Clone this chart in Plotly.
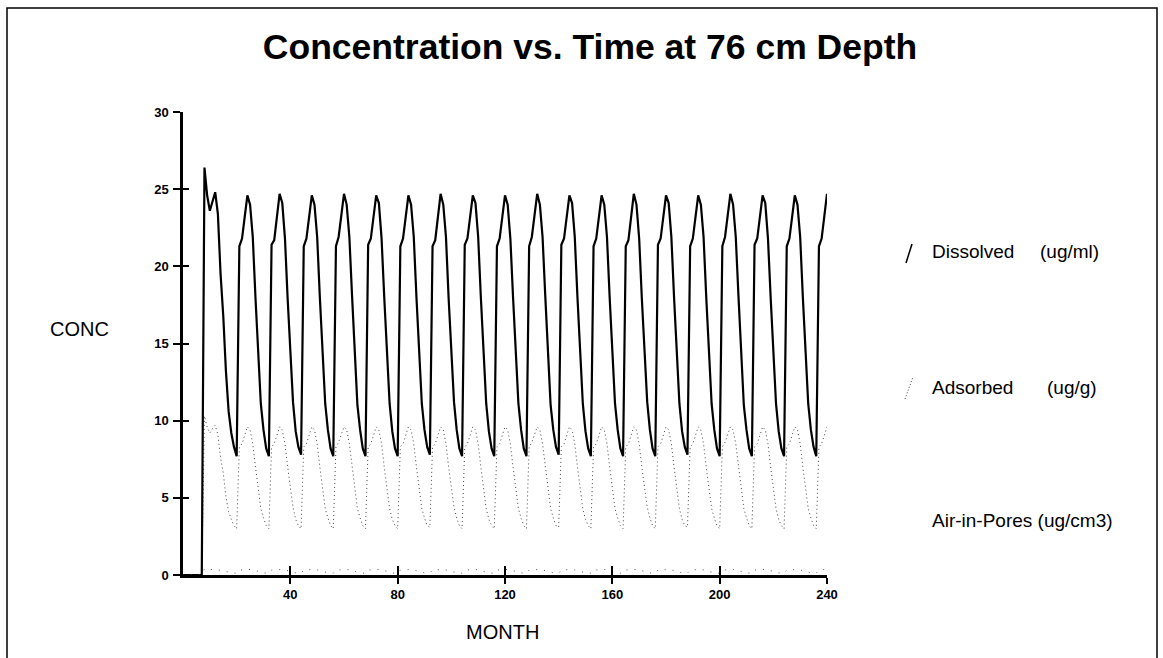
import plotly.graph_objects as go

# ---------------- data ----------------
months = list(range(0, 241))

dissolved = [
    0, 0, 0, 0, 0, 0, 0, 0,
    26.4, 24.6, 23.6, 24.3, 24.8, 23.4, 19.5, 16.8, 13.2, 10.6, 9.2, 8.3, 7.7,
    # cycles 1-6
    21.3, 21.8, 23.2, 24.6, 24.0, 21.9, 18.0, 14.5, 11.1, 9.4, 8.2, 7.7,
    21.4, 21.7, 23.3, 24.7, 24.1, 21.8, 17.9, 14.6, 11.2, 9.3, 8.3, 7.8,
    21.3, 21.8, 23.2, 24.6, 24.0, 21.9, 18.0, 14.5, 11.1, 9.4, 8.2, 7.7,
    21.3, 21.9, 23.3, 24.7, 24.0, 21.9, 18.1, 14.5, 11.0, 9.4, 8.2, 7.7,
    21.4, 21.8, 23.2, 24.6, 24.1, 21.8, 18.0, 14.6, 11.1, 9.3, 8.2, 7.7,
    21.3, 21.8, 23.2, 24.6, 24.0, 21.9, 18.0, 14.5, 11.1, 9.4, 8.3, 7.8,
    # cycles 7-12
    21.3, 21.7, 23.3, 24.7, 24.0, 21.9, 17.9, 14.5, 11.2, 9.4, 8.2, 7.7,
    21.4, 21.8, 23.2, 24.6, 24.1, 21.9, 18.0, 14.6, 11.1, 9.3, 8.2, 7.7,
    21.3, 21.8, 23.2, 24.6, 24.0, 21.8, 18.0, 14.5, 11.1, 9.4, 8.2, 7.7,
    21.3, 21.9, 23.3, 24.7, 24.0, 21.9, 18.1, 14.5, 11.0, 9.4, 8.3, 7.8,
    21.4, 21.8, 23.2, 24.6, 24.1, 21.9, 18.0, 14.6, 11.1, 9.3, 8.2, 7.7,
    21.3, 21.8, 23.2, 24.6, 24.0, 21.9, 18.0, 14.5, 11.1, 9.4, 8.2, 7.7,
    # cycles 13-18
    21.3, 21.7, 23.3, 24.7, 24.0, 21.8, 17.9, 14.5, 11.2, 9.4, 8.2, 7.7,
    21.4, 21.8, 23.2, 24.6, 24.1, 21.9, 18.0, 14.6, 11.1, 9.3, 8.3, 7.8,
    21.3, 21.8, 23.2, 24.6, 24.0, 21.9, 18.0, 14.5, 11.1, 9.4, 8.2, 7.7,
    21.3, 21.9, 23.3, 24.7, 24.0, 21.9, 18.1, 14.5, 11.0, 9.4, 8.2, 7.7,
    21.4, 21.8, 23.2, 24.6, 24.1, 21.8, 18.0, 14.6, 11.1, 9.3, 8.2, 7.7,
    21.3, 21.8, 23.2, 24.6, 24.0, 21.9, 18.0, 14.5, 11.1, 9.4, 8.3, 7.7,
    # last partial cycle
    21.3, 21.8, 23.2, 24.7,
]

adsorbed = [
    0, 0, 0, 0, 0, 0, 0, 0,
    10.3, 9.6, 9.2, 9.5, 9.7, 9.1, 7.6, 6.6, 5.1, 4.1, 3.6, 3.2, 3.0,
    # cycles 1-6
    8.3, 8.5, 9.0, 9.6, 9.4, 8.5, 7.0, 5.7, 4.3, 3.7, 3.2, 3.0,
    8.3, 8.5, 9.1, 9.6, 9.4, 8.5, 7.0, 5.7, 4.4, 3.6, 3.2, 3.0,
    8.3, 8.5, 9.0, 9.6, 9.4, 8.5, 7.0, 5.7, 4.3, 3.7, 3.2, 3.0,
    8.3, 8.6, 9.1, 9.6, 9.4, 8.5, 7.1, 5.7, 4.3, 3.7, 3.2, 3.0,
    8.3, 8.5, 9.0, 9.6, 9.4, 8.5, 7.0, 5.7, 4.3, 3.6, 3.2, 3.0,
    8.3, 8.5, 9.0, 9.6, 9.4, 8.5, 7.0, 5.7, 4.3, 3.7, 3.2, 3.1,
    # cycles 7-12
    8.3, 8.5, 9.1, 9.6, 9.4, 8.5, 7.0, 5.7, 4.4, 3.7, 3.2, 3.0,
    8.3, 8.5, 9.0, 9.6, 9.4, 8.5, 7.0, 5.7, 4.3, 3.6, 3.2, 3.0,
    8.3, 8.5, 9.0, 9.6, 9.4, 8.5, 7.0, 5.7, 4.3, 3.7, 3.2, 3.0,
    8.3, 8.6, 9.1, 9.6, 9.4, 8.5, 7.1, 5.7, 4.3, 3.7, 3.2, 3.1,
    8.3, 8.5, 9.0, 9.6, 9.4, 8.5, 7.0, 5.7, 4.3, 3.6, 3.2, 3.0,
    8.3, 8.5, 9.0, 9.6, 9.4, 8.5, 7.0, 5.7, 4.3, 3.7, 3.2, 3.0,
    # cycles 13-18
    8.3, 8.5, 9.1, 9.6, 9.4, 8.5, 7.0, 5.7, 4.4, 3.7, 3.2, 3.0,
    8.3, 8.5, 9.0, 9.6, 9.4, 8.5, 7.0, 5.7, 4.3, 3.6, 3.2, 3.1,
    8.3, 8.5, 9.0, 9.6, 9.4, 8.5, 7.0, 5.7, 4.3, 3.7, 3.2, 3.0,
    8.3, 8.6, 9.1, 9.6, 9.4, 8.5, 7.1, 5.7, 4.3, 3.7, 3.2, 3.0,
    8.3, 8.5, 9.0, 9.6, 9.4, 8.5, 7.0, 5.7, 4.3, 3.6, 3.2, 3.0,
    8.3, 8.5, 9.0, 9.6, 9.4, 8.5, 7.0, 5.7, 4.3, 3.7, 3.2, 3.0,
    # last partial cycle
    8.3, 8.5, 9.0, 9.6,
]

air_in_pores = [
    0, 0, 0, 0, 0, 0, 0, 0,
    0.40, 0.37, 0.35, 0.36, 0.37, 0.35, 0.29, 0.25, 0.20, 0.16, 0.14, 0.12, 0.12,
    # cycles 1-6
    0.32, 0.33, 0.35, 0.37, 0.36, 0.33, 0.27, 0.22, 0.17, 0.14, 0.12, 0.12,
    0.32, 0.33, 0.35, 0.37, 0.36, 0.33, 0.27, 0.22, 0.17, 0.14, 0.12, 0.12,
    0.32, 0.33, 0.35, 0.37, 0.36, 0.33, 0.27, 0.22, 0.17, 0.14, 0.12, 0.12,
    0.32, 0.33, 0.35, 0.37, 0.36, 0.33, 0.27, 0.22, 0.17, 0.14, 0.12, 0.12,
    0.32, 0.33, 0.35, 0.37, 0.36, 0.33, 0.27, 0.22, 0.17, 0.14, 0.12, 0.12,
    0.32, 0.33, 0.35, 0.37, 0.36, 0.33, 0.27, 0.22, 0.17, 0.14, 0.12, 0.12,
    # cycles 7-12
    0.32, 0.33, 0.35, 0.37, 0.36, 0.33, 0.27, 0.22, 0.17, 0.14, 0.12, 0.12,
    0.32, 0.33, 0.35, 0.37, 0.36, 0.33, 0.27, 0.22, 0.17, 0.14, 0.12, 0.12,
    0.32, 0.33, 0.35, 0.37, 0.36, 0.33, 0.27, 0.22, 0.17, 0.14, 0.12, 0.12,
    0.32, 0.33, 0.35, 0.37, 0.36, 0.33, 0.27, 0.22, 0.17, 0.14, 0.12, 0.12,
    0.32, 0.33, 0.35, 0.37, 0.36, 0.33, 0.27, 0.22, 0.17, 0.14, 0.12, 0.12,
    0.32, 0.33, 0.35, 0.37, 0.36, 0.33, 0.27, 0.22, 0.17, 0.14, 0.12, 0.12,
    # cycles 13-18
    0.32, 0.33, 0.35, 0.37, 0.36, 0.33, 0.27, 0.22, 0.17, 0.14, 0.12, 0.12,
    0.32, 0.33, 0.35, 0.37, 0.36, 0.33, 0.27, 0.22, 0.17, 0.14, 0.12, 0.12,
    0.32, 0.33, 0.35, 0.37, 0.36, 0.33, 0.27, 0.22, 0.17, 0.14, 0.12, 0.12,
    0.32, 0.33, 0.35, 0.37, 0.36, 0.33, 0.27, 0.22, 0.17, 0.14, 0.12, 0.12,
    0.32, 0.33, 0.35, 0.37, 0.36, 0.33, 0.27, 0.22, 0.17, 0.14, 0.12, 0.12,
    0.32, 0.33, 0.35, 0.37, 0.36, 0.33, 0.27, 0.22, 0.17, 0.14, 0.12, 0.12,
    # last partial cycle
    0.32, 0.33, 0.35, 0.37,
]

x_ticks = [40, 80, 120, 160, 200, 240]
x_tick_labels = ["40", "80", "120", "160", "200", "240"]
y_ticks = [0, 5, 10, 15, 20, 25, 30]
y_tick_labels = ["0", "5", "10", "15", "20", "25", "30"]

title_text = "Concentration vs. Time at 76 cm Depth"
series_names = ["Dissolved", "Adsorbed", "Air-in-Pores"]
series_units = ["(ug/ml)", "(ug/g)", "(ug/cm3)"]

for name, s in zip(series_names, [dissolved, adsorbed, air_in_pores]):
    if len(s) != len(months):
        raise ValueError(f"{name}: {len(s)} values for {len(months)} months")

# ---------------- layout geometry ----------------
W, H = 1163, 658
L, R, T, B = 183, 336, 112, 83
PW, PH = W - L - R, H - T - B


def px(xp):
    return (xp - L) / PW


def py(yp):
    return (H - B - yp) / PH


FONT = "Liberation Sans, Arial, sans-serif"

fig = go.Figure()
# air-in-pores is drawn on the twin axes (same ranges) that carry the inner half of the cross ticks
fig.add_trace(go.Scatter(x=months, y=air_in_pores, mode="lines", name=series_names[2],
                         xaxis="x2", yaxis="y2",
                         line=dict(color="#555555", width=1, dash="1px,7px"), showlegend=False))
fig.add_trace(go.Scatter(x=months, y=adsorbed, mode="lines", name=series_names[1],
                         line=dict(color="#444444", width=1, dash="1px,3px"), showlegend=False))
fig.add_trace(go.Scatter(x=months, y=dissolved, mode="lines", name=series_names[0],
                         line=dict(color="black", width=2.2), showlegend=False))

tickfont = dict(family=FONT, size=13, color="black", weight="bold")

fig.update_layout(
    width=W, height=H,
    margin=dict(l=L, r=R, t=T, b=B),
    paper_bgcolor="white", plot_bgcolor="rgba(0,0,0,0)",
    showlegend=False,
    title=dict(text=title_text, x=590 / W, xref="container", xanchor="center",
               y=1 - 47 / H, yref="container", yanchor="middle",
               font=dict(family=FONT, size=35.5, color="black", weight="bold")),
    xaxis=dict(range=[0, 240], tickvals=x_ticks, ticktext=x_tick_labels,
               ticks="outside", ticklen=6, tickwidth=1.5, tickcolor="black",
               showline=True, linewidth=2.5, linecolor="black",
               showgrid=False, zeroline=False, tickfont=tickfont, fixedrange=True),
    yaxis=dict(range=[0, 30], tickvals=y_ticks, ticktext=y_tick_labels,
               ticks="outside", ticklen=7, tickwidth=1.5, tickcolor="black",
               showline=True, linewidth=2.5, linecolor="black",
               showgrid=False, zeroline=False, tickfont=tickfont,
               ticklabelstandoff=2, fixedrange=True),
    xaxis2=dict(overlaying="x", anchor="y", side="bottom", range=[0, 240], tickvals=x_ticks,
                ticks="inside", ticklen=9, tickwidth=1.5, tickcolor="black",
                showticklabels=False, showline=False, showgrid=False, zeroline=False,
                fixedrange=True),
    yaxis2=dict(overlaying="y", anchor="x", side="left", range=[0, 30], tickvals=y_ticks,
                ticks="inside", ticklen=6, tickwidth=1.5, tickcolor="black",
                showticklabels=False, showline=False, showgrid=False, zeroline=False,
                fixedrange=True),
)

ann_font = dict(family=FONT, size=19, color="black")
annotations = [
    dict(text="CONC", x=px(79), y=py(329), xanchor="center", yanchor="middle",
         font=dict(family=FONT, size=20, color="black")),
    dict(text="MONTH", x=px(502), y=py(632), xanchor="center", yanchor="middle",
         font=dict(family=FONT, size=20, color="black")),
]
legend_rows = [251, 387, 520]
unit_x = [1038, 1045, 1017]
for name, unit, yr, ux in zip(series_names, series_units, legend_rows, unit_x):
    if name == "Air-in-Pores":
        annotations.append(dict(text=name + " " + unit, x=px(930), y=py(yr),
                                xanchor="left", yanchor="middle", font=ann_font))
    else:
        annotations.append(dict(text=name, x=px(930), y=py(yr),
                                xanchor="left", yanchor="middle", font=ann_font))
        annotations.append(dict(text=unit, x=px(ux), y=py(yr),
                                xanchor="left", yanchor="middle", font=ann_font))
for a in annotations:
    a.update(xref="paper", yref="paper", showarrow=False)
fig.update_layout(annotations=annotations)

shapes = [
    # page frame
    dict(type="rect", xref="paper", yref="paper", x0=px(7), x1=px(1157), y0=py(672), y1=py(8),
         line=dict(color="black", width=1.5), fillcolor="rgba(0,0,0,0)", layer="below"),
    # legend glyphs
    dict(type="line", xref="paper", yref="paper", x0=px(906), y0=py(263), x1=px(912), y1=py(244),
         line=dict(color="black", width=1.5)),
    dict(type="line", xref="paper", yref="paper", x0=px(905), y0=py(399), x1=px(913), y1=py(377),
         line=dict(color="#444444", width=1, dash="1px,2px")),
]
fig.update_layout(shapes=shapes)

fig.write_html("out.html")
